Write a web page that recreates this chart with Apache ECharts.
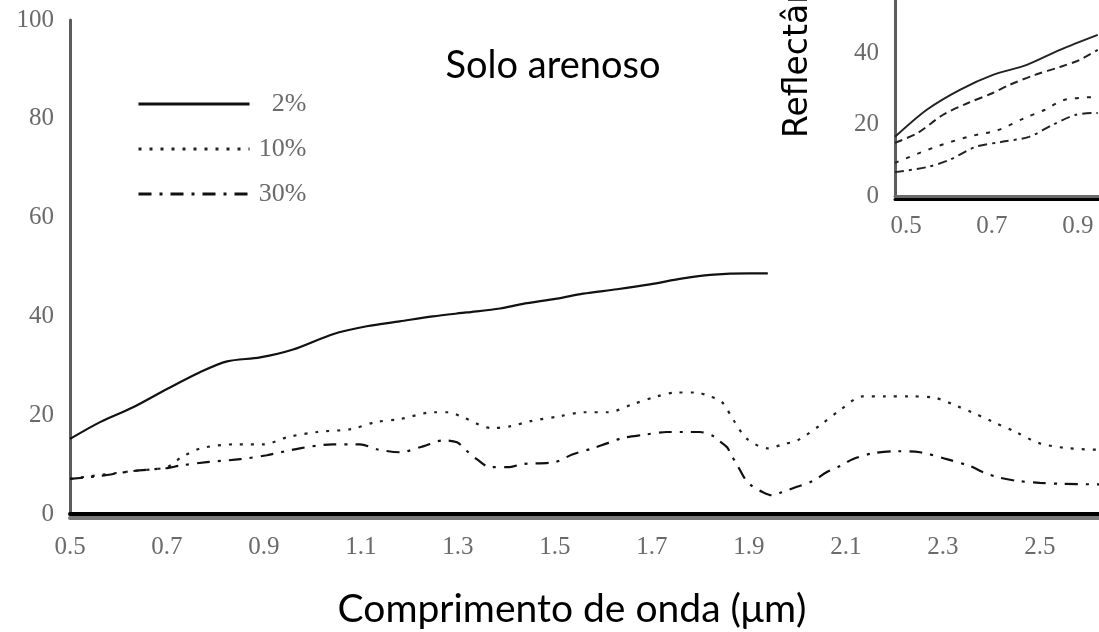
<!DOCTYPE html>
<html>
<head>
<meta charset="utf-8">
<script src="https://cdn.jsdelivr.net/npm/echarts@6/dist/echarts.min.js"></script>
<style>
html,body{margin:0;padding:0;background:#fff;}
#chart{width:1099px;height:632px;}
</style>
</head>
<body>
<div id="chart"></div>
<script>
// ---- Main chart data (Solo arenoso) ----
const seriesNames = ['2%', '10%', '30%'];
const xTickLabels = ['0.5','0.7','0.9','1.1','1.3','1.5','1.7','1.9','2.1','2.3','2.5'];
const yTickLabels = ['0','20','40','60','80','100'];

const wl2 = [0.5,0.562,0.63,0.7,0.768,0.824,0.892,0.96,1.042,1.112,1.18,1.248,1.318,1.387,1.432,1.504,1.558,1.628,1.696,1.764,1.82,1.902,1.939];
const refl2 = [15.2,18.6,21.6,25.3,28.7,30.9,31.7,33.3,36.4,38,39,40,40.8,41.6,42.5,43.6,44.6,45.5,46.5,47.7,48.4,48.7,48.7];

const wl10 = [0.5,0.53,0.63,0.7,0.73,0.77,0.84,0.9,0.95,1.01,1.08,1.13,1.18,1.25,1.28,1.31,1.37,1.41,1.45,1.51,1.56,1.61,1.66,1.71,1.75,1.79,1.82,1.845,1.867,1.896,1.94,1.97,2.0,2.05,2.09,2.135,2.18,2.23,2.28,2.33,2.36,2.4,2.45,2.5,2.56,2.62];
const refl10 = [7.1,7.5,8.7,9.5,11.5,13.3,14.1,14.1,15.6,16.6,17.2,18.6,19.2,20.6,20.6,19.6,17.4,17.8,18.8,19.8,20.6,20.6,22.2,23.8,24.6,24.6,23.8,22.6,19.2,15.2,13.3,14.1,14.9,18.2,21.2,23.8,23.8,23.8,23.6,21.8,20.6,18.8,16.6,14.3,13.3,13];

const wl30 = [0.5,0.562,0.63,0.7,0.727,0.782,0.851,0.906,0.974,1.042,1.098,1.133,1.18,1.228,1.269,1.298,1.319,1.339,1.366,1.407,1.432,1.5,1.537,1.578,1.607,1.64,1.681,1.731,1.799,1.826,1.84,1.855,1.865,1.875,1.892,1.906,1.929,1.947,1.968,1.999,2.032,2.061,2.088,2.114,2.156,2.205,2.253,2.308,2.356,2.382,2.411,2.453,2.5,2.547,2.622];
const refl30 = [7.1,7.7,8.7,9.3,9.8,10.5,11.1,11.9,13.3,14.1,14.1,13.1,12.5,13.7,14.9,14.5,12.7,11.1,9.5,9.5,10.1,10.5,12.1,13.3,14.3,15.4,16,16.6,16.6,15.8,14.7,13.5,11.7,10.1,7.1,5.7,4.4,3.8,4.4,5.5,6.7,8.5,9.7,11.1,12.3,12.7,12.5,11.1,9.7,8.5,7.5,6.7,6.3,6.1,6.0];

// ---- Inset chart data (cropped) ----
const insetXTickLabels = ['0.5','0.7','0.9'];
const insetYTickLabels = ['0','20','40'];
const insetWlA = [0.5,0.574,0.651,0.728,0.807,0.884,0.972];
const insetReflA = [16.6,24.2,29.8,34,36.8,41,45.2];
const insetWlB = [0.5,0.553,0.612,0.67,0.728,0.767,0.826,0.884,0.93,0.972];
const insetReflB = [14.9,17.7,22.8,26.1,28.9,31.2,34,36.2,38.2,41];
const insetWlC = [0.5,0.588,0.67,0.74,0.802,0.849,0.895,0.972];
const insetReflC = [9.3,13.5,16.6,18.5,21.9,24.2,27,27.8];
const insetWlD = [0.5,0.574,0.626,0.688,0.749,0.812,0.866,0.921,0.972];
const insetReflD = [6.7,8.1,10.1,13.8,15.2,16.6,19.9,22.8,23.3];

const titleText = 'Solo arenoso';
const xAxisTitle = 'Comprimento de onda (\u03bcm)';
const insetYAxisTitle = 'Reflectância (%)';

function pairs(xs, ys) { return xs.map((x, i) => [x, ys[i]]); }
function fmtFrom(list) {
  return function (v) {
    const s = (Math.round(v * 10) / 10).toFixed(1);
    return list.indexOf(s) >= 0 ? s : '';
  };
}
function yFmtFrom(list) {
  return function (v) {
    const s = String(Math.round(v));
    return list.indexOf(s) >= 0 ? s : '';
  };
}

const labelFont = {fontFamily: 'Liberation Serif', fontSize: 25, color: '#6a6a6a'};

const chart = echarts.init(document.getElementById('chart'), null, {renderer: 'canvas'});
const option = {
  animation: false,
  backgroundColor: '#ffffff',
  grid: [
    {left: 70, top: 20, width: 1029, bottom: 118, containLabel: false},
    {left: 895, top: 0, width: 204, height: 196, containLabel: false}
  ],
  xAxis: [
    {
      gridIndex: 0, type: 'value', min: 0.5, max: 2.622, interval: 0.1,
      axisLine: {show: true, onZero: false, lineStyle: {color: '#000', width: 4}},
      axisTick: {show: false}, splitLine: {show: false},
      axisLabel: Object.assign({margin: 21, formatter: fmtFrom(xTickLabels), showMaxLabel: false}, labelFont)
    },
    {
      gridIndex: 0, type: 'value', min: 0.5, max: 2.622, interval: 0.1, offset: 4, position: 'bottom',
      axisLine: {show: true, onZero: false, lineStyle: {color: '#7a7a7a', width: 4}},
      axisTick: {show: false}, splitLine: {show: false}, axisLabel: {show: false}
    },
    {
      gridIndex: 1, type: 'value', min: 0.5, max: 0.975, interval: 0.1,
      axisLine: {show: true, onZero: false, lineStyle: {color: '#6a6a6a', width: 3}},
      axisTick: {show: false}, splitLine: {show: false},
      axisLabel: Object.assign({margin: 18, padding: [0, 0, 0, 22], formatter: fmtFrom(insetXTickLabels), showMaxLabel: false}, labelFont)
    },
    {
      gridIndex: 1, type: 'value', min: 0.5, max: 0.975, interval: 0.1, offset: 3, position: 'bottom',
      axisLine: {show: true, onZero: false, lineStyle: {color: '#000', width: 3}},
      axisTick: {show: false}, splitLine: {show: false}, axisLabel: {show: false}
    }
  ],
  yAxis: [
    {
      gridIndex: 0, type: 'value', min: 0, max: 100, interval: 20,
      axisLine: {show: true, onZero: false, lineStyle: {color: '#5c5c5c', width: 3}},
      axisTick: {show: false}, splitLine: {show: false},
      axisLabel: Object.assign({margin: 16, formatter: yFmtFrom(yTickLabels)}, labelFont)
    },
    {
      gridIndex: 1, type: 'value', min: 0, max: 55, interval: 20,
      axisLine: {show: true, onZero: false, lineStyle: {color: '#5c5c5c', width: 3}},
      axisTick: {show: false}, splitLine: {show: false},
      axisLabel: Object.assign({margin: 16, showMaxLabel: false, formatter: yFmtFrom(insetYTickLabels)}, labelFont)
    }
  ],
  legend: {
    data: seriesNames,
    orient: 'vertical',
    left: 132, top: 86,
    itemWidth: 111, itemHeight: 26, itemGap: 19,
    itemStyle: {opacity: 0},
    lineStyle: {width: 3},
    formatter: function (n) { return '{a|' + n + '}'; },
    textStyle: {
      fontFamily: 'Liberation Serif', fontSize: 26, color: '#6a6a6a',
      rich: {a: {width: 52, align: 'right', fontFamily: 'Liberation Serif', fontSize: 26, color: '#6a6a6a'}}
    }
  },
  graphic: [
    {type: 'text', x: 553, y: 66, style: {text: titleText, font: '38px Lato', fill: '#000', textAlign: 'center', textVerticalAlign: 'middle'}},
    {type: 'text', x: 572, y: 609, style: {text: xAxisTitle, font: '39px Lato', fill: '#000', textAlign: 'center', textVerticalAlign: 'middle'}},
    {type: 'text', x: 798, y: 138, rotation: Math.PI / 2, style: {text: insetYAxisTitle, font: '33px "DejaVu Sans"', fill: '#000', textAlign: 'left', textVerticalAlign: 'middle'}}
  ],
  series: [
    {name: '2%', type: 'line', xAxisIndex: 0, yAxisIndex: 0, data: pairs(wl2, refl2), smooth: 0.3, symbol: 'none',
      lineStyle: {color: '#111', width: 2.2, type: 'solid'}, itemStyle: {color: '#111'}},
    {name: '10%', type: 'line', xAxisIndex: 0, yAxisIndex: 0, data: pairs(wl10, refl10), smooth: 0.3, symbol: 'none',
      lineStyle: {color: '#222', width: 2.2, type: [3, 8]}, itemStyle: {color: '#222'}},
    {name: '30%', type: 'line', xAxisIndex: 0, yAxisIndex: 0, data: pairs(wl30, refl30), smooth: 0.3, symbol: 'none',
      lineStyle: {color: '#111', width: 2.2, type: [13, 8, 3, 8]}, itemStyle: {color: '#111'}},
    {name: 'insetA', type: 'line', xAxisIndex: 2, yAxisIndex: 1, data: pairs(insetWlA, insetReflA), smooth: 0.3, symbol: 'none',
      lineStyle: {color: '#222', width: 2, type: 'solid'}},
    {name: 'insetB', type: 'line', xAxisIndex: 2, yAxisIndex: 1, data: pairs(insetWlB, insetReflB), smooth: 0.3, symbol: 'none',
      lineStyle: {color: '#222', width: 2, type: [8, 5]}},
    {name: 'insetC', type: 'line', xAxisIndex: 2, yAxisIndex: 1, data: pairs(insetWlC, insetReflC), smooth: 0.3, symbol: 'none',
      lineStyle: {color: '#222', width: 2, type: [4, 8]}},
    {name: 'insetD', type: 'line', xAxisIndex: 2, yAxisIndex: 1, data: pairs(insetWlD, insetReflD), smooth: 0.3, symbol: 'none',
      lineStyle: {color: '#222', width: 2, type: [9, 5, 3, 5]}}
  ]
};
chart.setOption(option);
</script>
</body>
</html>
